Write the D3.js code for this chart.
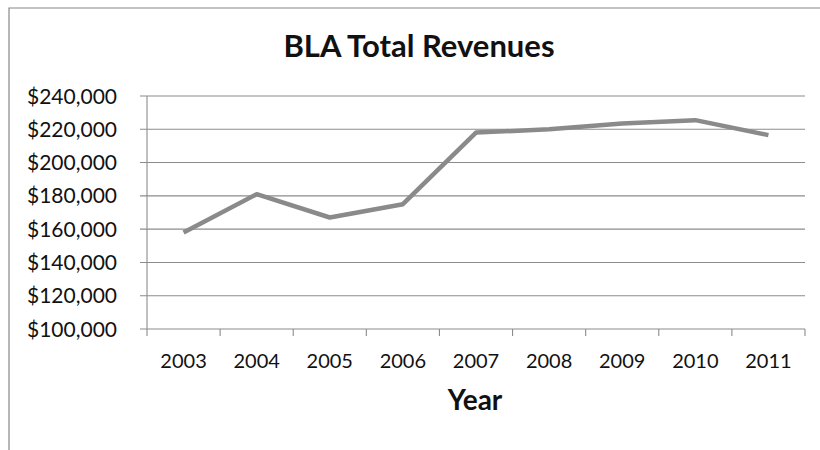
<!DOCTYPE html>
<html><head><meta charset="utf-8">
<script src="https://cdn.jsdelivr.net/npm/d3@7"></script>
<style>body{margin:0;background:#fff}svg{display:block}</style>
</head><body>
<svg id="c" width="820" height="450"></svg>
<script>
const years = ["2003","2004","2005","2006","2007","2008","2009","2010","2011"];
const revenues = [158000,181000,167000,175000,218000,220000,223500,225500,216500];
const yTicks = [100000,120000,140000,160000,180000,200000,220000,240000];
const title = "BLA Total Revenues";
const xTitle = "Year";

const svg = d3.select("#c");
const m = {left:147, right:805, top:96, bottom:329};
const x = d3.scaleBand().domain(years).range([m.left, m.right]);
const y = d3.scaleLinear().domain([100000,240000]).range([m.bottom, m.top]);

// frame
svg.append("path").attr("d","M9,450 V8 H820").attr("fill","none").attr("stroke","#888").attr("stroke-width",1.2);

// gridlines
svg.append("g").selectAll("line").data(yTicks).join("line")
  .attr("x1", m.left-7).attr("x2", m.right)
  .attr("y1", d=>y(d)).attr("y2", d=>y(d))
  .attr("stroke","#8c8c8c").attr("stroke-width",1.1);

// y axis line
svg.append("line").attr("x1",m.left).attr("x2",m.left).attr("y1",m.top).attr("y2",m.bottom)
  .attr("stroke","#8c8c8c").attr("stroke-width",1.1);

// x axis ticks (between categories)
const bounds = years.map(d=>x(d)).concat([m.right]);
svg.append("g").selectAll("line").data(bounds).join("line")
  .attr("x1",d=>d).attr("x2",d=>d).attr("y1",m.bottom).attr("y2",m.bottom+7)
  .attr("stroke","#8c8c8c").attr("stroke-width",1.1);

// y labels
const fmt = d3.format("$,");
svg.append("g").selectAll("text").data(yTicks).join("text")
  .attr("x",117).attr("y",d=>y(d)).attr("dy","0.36em")
  .attr("text-anchor","end").attr("font-family","Lato").attr("font-size",21)
  .attr("fill","#111").text(d=>fmt(d));

// x labels
svg.append("g").selectAll("text").data(years).join("text")
  .attr("x",d=>x(d)+x.bandwidth()/2).attr("y",368)
  .attr("text-anchor","middle").attr("font-family","Lato").attr("font-size",20)
  .attr("fill","#111").text(d=>d);

// line
const line = d3.line().x((d,i)=>x(years[i])+x.bandwidth()/2).y(d=>y(d));
svg.append("path").datum(revenues).attr("d",line).attr("fill","none")
  .attr("stroke","#8a8a8a").attr("stroke-width",4.5).attr("stroke-linejoin","round");

// titles
svg.append("text").attr("x",419).attr("y",57).attr("text-anchor","middle")
  .attr("font-family","Lato").attr("font-weight","bold").attr("font-size",31)
  .attr("fill","#111").text(title);
svg.append("text").attr("x",475).attr("y",410).attr("text-anchor","middle")
  .attr("font-family","Lato").attr("font-weight","bold").attr("font-size",28)
  .attr("fill","#111").text(xTitle);
</script>
</body></html>
